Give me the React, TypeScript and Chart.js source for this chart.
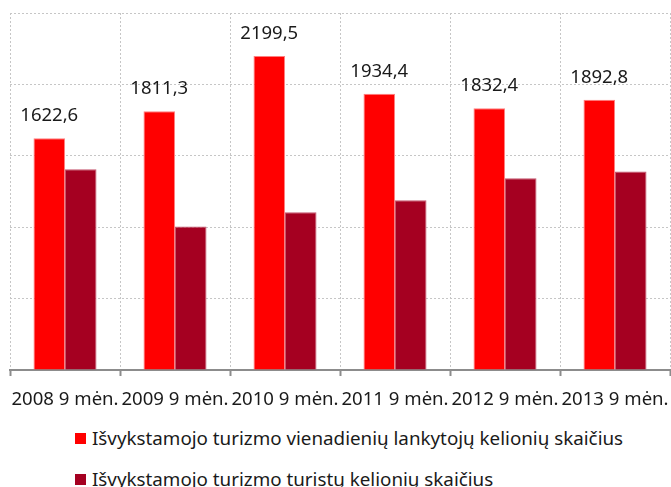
import React, { useEffect, useRef } from "react";
import { Chart, registerables } from "chart.js";

Chart.register(...registerables);

const categories = [
  "2008 9 mėn.",
  "2009 9 mėn.",
  "2010 9 mėn.",
  "2011 9 mėn.",
  "2012 9 mėn.",
  "2013 9 mėn.",
];
const dayTrips = [1622.6, 1811.3, 2199.5, 1934.4, 1832.4, 1892.8];
const touristTrips = [1405, 1005, 1105, 1188, 1343, 1390];
const seriesNames = [
  "Išvykstamojo turizmo vienadienių lankytojų kelionių skaičius",
  "Išvykstamojo turizmo turistų kelionių skaičius",
];
const yMin = 0;
const yMax = 2500;
const yStep = 500;

const RED = "#ff0000";
const DARK = "#a50021";
const FONT = "'Noto Sans', sans-serif";

const fmt = (v: number) => v.toFixed(1).replace(".", ",");

const labelPlugin = {
  id: "valueLabels",
  afterDatasetsDraw(chart: any) {
    const ctx = chart.ctx;
    const meta = chart.getDatasetMeta(0);
    ctx.save();
    ctx.font = `18.5px ${FONT}`;
    ctx.fillStyle = "#1a1a1a";
    ctx.textAlign = "center";
    ctx.textBaseline = "alphabetic";
    meta.data.forEach((bar: any, i: number) => {
      ctx.fillText(fmt(dayTrips[i]), bar.x, bar.y - 17);
    });
    ctx.restore();
  },
};

export default function App() {
  const ref = useRef<HTMLCanvasElement>(null);
  useEffect(() => {
    if (!ref.current) return;
    const chart = new Chart(ref.current, {
      type: "bar",
      data: {
        labels: categories,
        datasets: [
          {
            label: seriesNames[0],
            data: dayTrips,
            backgroundColor: RED,
            borderColor: "#ff7f7f",
            borderWidth: { top: 1, left: 1, right: 1, bottom: 0 },
            categoryPercentage: 0.573,
            barPercentage: 1,
          },
          {
            label: seriesNames[1],
            data: touristTrips,
            backgroundColor: DARK,
            borderColor: "#c4566e",
            borderWidth: { top: 1, left: 1, right: 1, bottom: 0 },
            categoryPercentage: 0.573,
            barPercentage: 1,
          },
        ],
      },
      options: {
        responsive: false,
        animation: false,
        layout: { padding: { left: 10, right: 1, top: 13, bottom: 0 } },
        plugins: {
          legend: { display: false },
          tooltip: { enabled: false },
        },
        scales: {
          x: {
            grid: {
              offset: true,
              color: "#c6c6c6",
              lineWidth: 1,
              tickLength: 6,
              tickColor: "#8c8c8c",
              tickWidth: 2,
              tickBorderDash: [],
            },
            border: { display: true, color: "#8c8c8c", width: 2, dash: [2, 2] },
            ticks: {
              color: "#1a1a1a",
              font: { family: FONT, size: 18.6 },
              padding: 13,
              maxRotation: 0,
              autoSkip: false,
            },
            afterFit(scale: any) {
              scale.height = 50;
              scale.paddingLeft = 0;
              scale.paddingRight = 0;
            },
          },
          y: {
            min: yMin,
            max: yMax,
            ticks: { display: false, stepSize: yStep },
            grid: {
              color: "#c6c6c6",
              lineWidth: 1,
              drawTicks: false,
            },
            border: { display: false, dash: [2, 2] },
            afterFit(scale: any) {
              scale.width = 0;
            },
          },
        },
      },
      plugins: [labelPlugin],
    });
    return () => chart.destroy();
  }, []);

  const legendItem = (color: string, text: string, top: number) => (
    <div
      style={{
        position: "absolute",
        left: 75,
        top,
        height: 24,
        display: "flex",
        alignItems: "center",
        fontFamily: FONT,
        fontSize: 18.8,
        color: "#1a1a1a",
        whiteSpace: "nowrap",
      }}
    >
      <span
        style={{
          display: "inline-block",
          width: 11,
          height: 11,
          background: color,
          marginRight: 6,
        }}
      />
      <span>{text}</span>
    </div>
  );

  return (
    <div
      style={{
        position: "fixed",
        left: 0,
        top: 0,
        width: 671,
        height: 487,
        background: "#fff",
        overflow: "hidden",
      }}
    >
      <canvas
        ref={ref}
        width={671}
        height={420}
        style={{ position: "absolute", left: 0, top: 0, width: 671, height: 420 }}
      />
      {legendItem(RED, seriesNames[0], 426)}
      {legendItem(DARK, seriesNames[1], 467)}
    </div>
  );
}
